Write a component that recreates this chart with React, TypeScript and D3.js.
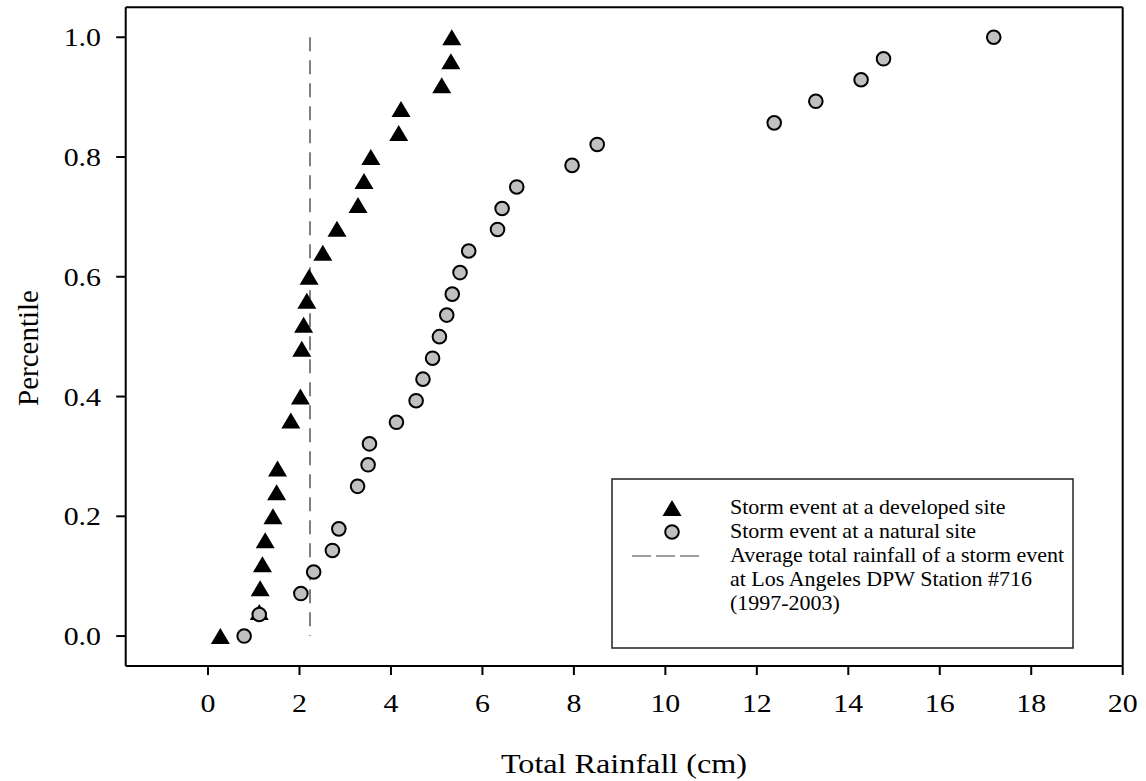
import React from "react";
import * as d3 from "d3";

const developedX = [0.27, 1.12, 1.14, 1.19, 1.25, 1.42, 1.5, 1.52, 1.81, 2.02, 2.05, 2.09, 2.16, 2.21, 2.51, 2.82, 3.28, 3.41, 3.56, 4.17, 4.22, 5.11, 5.31, 5.33];
const developedY = [0, 0.04, 0.08, 0.12, 0.16, 0.2, 0.24, 0.28, 0.36, 0.4, 0.48, 0.52, 0.56, 0.6, 0.64, 0.68, 0.72, 0.76, 0.8, 0.84, 0.88, 0.92, 0.96, 1.0];

const naturalX = [0.79, 1.12, 2.03, 2.31, 2.72, 2.86, 3.27, 3.5, 3.53, 4.12, 4.55, 4.7, 4.91, 5.06, 5.22, 5.34, 5.51, 5.7, 6.33, 6.43, 6.75, 7.96, 8.51, 12.38, 13.29, 14.28, 14.77, 17.18];
const naturalY = [0, 0.036, 0.071, 0.107, 0.143, 0.179, 0.25, 0.286, 0.321, 0.357, 0.393, 0.429, 0.464, 0.5, 0.536, 0.571, 0.607, 0.643, 0.679, 0.714, 0.75, 0.786, 0.821, 0.857, 0.893, 0.929, 0.964, 1.0];

const averageRainfall = 2.23;
const averageRange = [0, 1];

const xTicks = [0, 2, 4, 6, 8, 10, 12, 14, 16, 18, 20];
const yTicks = [0, 0.2, 0.4, 0.6, 0.8, 1.0];

const legendLabels = [
  "Storm event at a developed site",
  "Storm event at a natural site",
  "Average total rainfall of a storm event",
  "at Los Angeles DPW Station #716",
  "(1997-2003)",
];

const xLabel = "Total Rainfall (cm)";
const yLabel = "Percentile";

const FONT = "'Liberation Serif', 'Times New Roman', serif";

export default function App() {
  const left = 125.7, right = 1122.7, top = 7.3, bottom = 666;
  const x = d3.scaleLinear().domain([-1.8, 20]).range([left, right]);
  const y = d3.scaleLinear().domain([-0.05, 1.05]).range([bottom, top]);

  const tw = 19, th = 16;
  const tri = (cx: number, cy: number) =>
    `M${cx},${cy - th / 2}L${cx + tw / 2},${cy + th / 2}L${cx - tw / 2},${cy + th / 2}Z`;

  const legendX = 612, legendY = 479, legendW = 461, legendH = 169;
  const rowY = [508, 532, 556, 580, 604];
  const symX = 672;
  const textX = 730;

  return (
    <svg width={1146} height={781} style={{ position: "absolute", left: 0, top: 0, background: "#fff" }} fontFamily={FONT}>
      <rect x={0} y={0} width={1146} height={781} fill="#fff" />
      {/* frame */}
      <line x1={left} x2={right} y1={top} y2={top} stroke="#000" strokeWidth={2} />
      <line x1={right} x2={right} y1={top} y2={bottom} stroke="#000" strokeWidth={2} />
      <line x1={left} x2={left} y1={top} y2={bottom} stroke="#000" strokeWidth={2} />
      <line x1={left} x2={right} y1={bottom} y2={bottom} stroke="#000" strokeWidth={2} />

      {/* x ticks */}
      {xTicks.map((t) => (
        <g key={"xt" + t}>
          <line x1={x(t)} x2={x(t)} y1={bottom} y2={bottom + 9} stroke="#000" strokeWidth={2} />
          <text x={x(t)} y={712} textAnchor="middle" fontSize={26} fill="#000"
            transform={`translate(${x(t)},0) scale(1.15,1) translate(${-x(t)},0)`}>{t}</text>
        </g>
      ))}
      {/* y ticks */}
      {yTicks.map((t) => (
        <g key={"yt" + t}>
          <line x1={left - 9.5} x2={left} y1={y(t)} y2={y(t)} stroke="#000" strokeWidth={2} />
          <text x={101} y={y(t) + 9} textAnchor="end" fontSize={26} fill="#000"
            transform={`translate(101,0) scale(1.15,1) translate(-101,0)`}>{t.toFixed(1)}</text>
        </g>
      ))}

      {/* axis titles */}
      <text x={624} y={773} textAnchor="middle" fontSize={28} fill="#000"
        transform="translate(624,0) scale(1.15,1) translate(-624,0)">{xLabel}</text>
      <text transform="translate(38,348) rotate(-90)" textAnchor="middle" fontSize={29} fill="#000">{yLabel}</text>

      {/* average line */}
      <line x1={x(averageRainfall)} x2={x(averageRainfall)} y1={y(averageRange[1])} y2={y(averageRange[0])}
        stroke="#808080" strokeWidth={2} strokeDasharray="14,9" />

      {/* developed site triangles */}
      {developedX.map((v, i) => (
        <path key={"d" + i} d={tri(x(v), y(developedY[i]))} fill="#000" />
      ))}
      {/* natural site circles */}
      {naturalX.map((v, i) => (
        <circle key={"n" + i} cx={x(v)} cy={y(naturalY[i])} r={6.8} fill="#c0c0c0" stroke="#000" strokeWidth={2} />
      ))}

      {/* legend */}
      <rect x={legendX} y={legendY} width={legendW} height={legendH} fill="#fff" stroke="#222" strokeWidth={1.5} />
      <path d={tri(symX, rowY[0])} fill="#000" />
      <circle cx={symX} cy={rowY[1]} r={6.8} fill="#c0c0c0" stroke="#000" strokeWidth={2} />
      <line x1={632} x2={703} y1={rowY[2]} y2={rowY[2]} stroke="#808080" strokeWidth={1.5} strokeDasharray="19,5" />
      {legendLabels.map((s, i) => (
        <text key={"l" + i} x={textX} y={rowY[i] + 6.5} fontSize={20} fill="#000"
          transform={`translate(${textX},0) scale(1.1,1) translate(${-textX},0)`}>{s}</text>
      ))}
    </svg>
  );
}
